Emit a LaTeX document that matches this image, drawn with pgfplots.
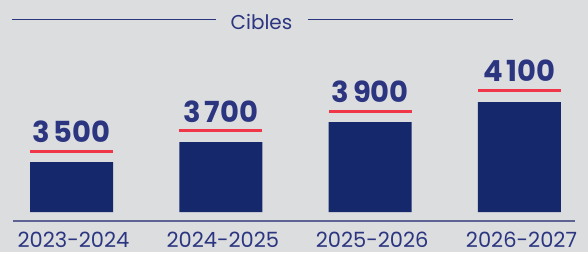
\documentclass[border=0pt]{standalone}
\usepackage{fontspec}
\setmainfont{Poppins}
\usepackage{pgfplots}
\usepackage{pgfplotstable}
\pgfplotsset{compat=1.18}
\definecolor{bg}{HTML}{DCDDDF}
\definecolor{navy}{HTML}{15286B}
\definecolor{txt}{HTML}{2B3580}
\definecolor{axisc}{HTML}{5E6394}
\definecolor{redl}{HTML}{F2364A}
\pgfplotstableread{
x value line
0 3500 3607
1 3700 3813
2 3900 4010
3 4100 4217
}\data
\begin{document}
\begin{tikzpicture}[x=1pt,y=1pt]
\fill[bg] (0,0) rectangle (588,252);
\node[font=\fontsize{20}{20}\selectfont, text=txt, anchor=base, inner sep=0pt] at (261.5,223) {Cibles};
\draw[txt, line width=1.3pt] (12,232.7) -- (216,232.7);
\draw[txt, line width=1.3pt] (308,232.7) -- (513,232.7);
\begin{axis}[
  at={(13pt,40pt)}, anchor=south west,
  scale only axis, width=562pt, height=212pt,
  xmin=-0.392, xmax=3.372, ymin=3000, ymax=5120,
  axis line style={draw=none},
  ytick=\empty,
  xtick={0,1,2,3},
  xticklabels={2023-2024,2024-2025,2025-2026,2026-2027},
  major tick length=0pt,
  xticklabel style={anchor=base, inner sep=0pt, text depth=0pt, yshift=-35pt, xshift=2pt, font=\fontsize{21}{21}\selectfont, text=txt},
  /pgf/number format/.cd, assume math mode=true, 1000 sep={\hspace{4pt}},
]
\addplot[ybar, bar width=83pt, bar shift=0pt, fill=navy, draw=none] table[x=x, y=value] {\data};
\addplot[only marks, mark=-, mark size=41.5pt, mark options={draw=redl, line width=3pt},
  point meta=explicit,
  nodes near coords={\pgfmathprintnumber{\pgfplotspointmeta}},
  nodes near coords style={anchor=base, inner sep=0pt, yshift=8.6pt, font=\fontsize{29}{29}\selectfont\bfseries, text=txt}]
  table[x=x, y=line, meta=value] {\data};
\end{axis}
\draw[axisc, line width=1.5pt] (13,31.3) -- (575,31.3);
\end{tikzpicture}
\end{document}
